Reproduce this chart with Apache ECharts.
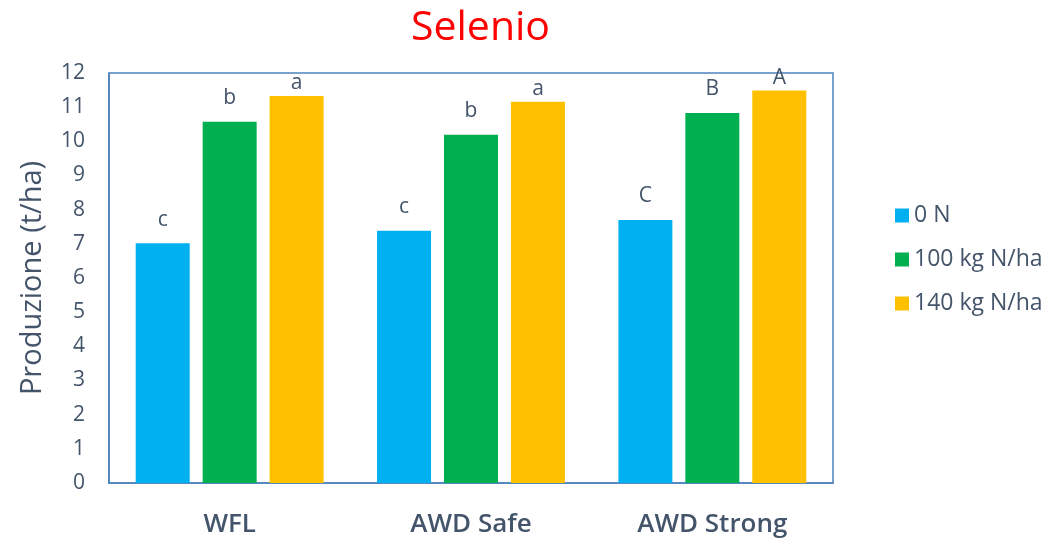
<!DOCTYPE html>
<html>
<head>
<meta charset="utf-8">
<script src="https://cdn.jsdelivr.net/npm/echarts@6/dist/echarts.min.js"></script>
<style>
html,body{margin:0;padding:0;background:#fff;}
#main{width:1055px;height:542px;}
</style>
</head>
<body>
<div id="main"></div>
<script>
const categories = ['WFL', 'AWD Safe', 'AWD Strong'];
const seriesNames = ['0 N', '100 kg N/ha', '140 kg N/ha'];
const values0N = [7.02, 7.38, 7.70];
const values100N = [10.57, 10.19, 10.83];
const values140N = [11.33, 11.16, 11.49];
const letters0N = ['c', 'c', 'C'];
const letters100N = ['b', 'b', 'B'];
const letters140N = ['a', 'a', 'A'];
const yTicks = [0,1,2,3,4,5,6,7,8,9,10,11,12];

const colors = ['#00B0F0', '#00B050', '#FFC000'];
const txt = '#44546A';
const font = 'Open Sans';

function mkSeries(name, vals, letters, color, dist) {
  return {
    name: name,
    type: 'bar',
    barWidth: 54,
    barGap: '24%',
    data: vals,
    itemStyle: { color: color },
    label: {
      show: true,
      position: 'top',
      distance: dist,
      color: txt,
      fontFamily: font,
      fontSize: 21,
      formatter: function (p) { return letters[p.dataIndex]; }
    }
  };
}

const chart = echarts.init(document.getElementById('main'));
chart.setOption({
  animation: false,
  color: colors,
  title: {
    text: 'Selenio',
    left: 406,
    top: 3,
    textStyle: { color: '#FF0000', fontFamily: font, fontSize: 41, fontWeight: 'normal' }
  },
  legend: {
    orient: 'vertical',
    left: 890,
    top: 199,
    itemWidth: 14,
    itemHeight: 14,
    itemGap: 21,
    icon: 'rect',
    textStyle: { color: txt, fontFamily: font, fontSize: 23 },
    data: seriesNames
  },
  grid: {
    left: 109, top: 73, width: 724, height: 410,
    show: true, borderColor: '#4F81BD', borderWidth: 1.5
  },
  xAxis: {
    type: 'category',
    data: categories,
    axisLine: { lineStyle: { color: '#4F81BD', width: 1.5 } },
    axisTick: { show: false },
    axisLabel: { color: txt, fontFamily: font, fontSize: 26, fontWeight: 600, margin: 29 }
  },
  yAxis: {
    type: 'value',
    min: yTicks[0],
    max: yTicks[yTicks.length - 1],
    interval: 1,
    name: 'Produzione (t/ha)',
    nameLocation: 'middle',
    nameGap: 62,
    nameTextStyle: { color: txt, fontFamily: font, fontSize: 29 },
    axisLine: { show: true, lineStyle: { color: '#4F81BD', width: 1.5 } },
    axisTick: { show: false },
    splitLine: { show: false },
    axisLabel: { color: txt, fontFamily: font, fontSize: 21, margin: 24 }
  },
  series: [
    mkSeries(seriesNames[0], values0N, letters0N, colors[0], 13),
    mkSeries(seriesNames[1], values100N, letters100N, colors[1], 13),
    mkSeries(seriesNames[2], values140N, letters140N, colors[2], 2)
  ]
});
</script>
</body>
</html>
